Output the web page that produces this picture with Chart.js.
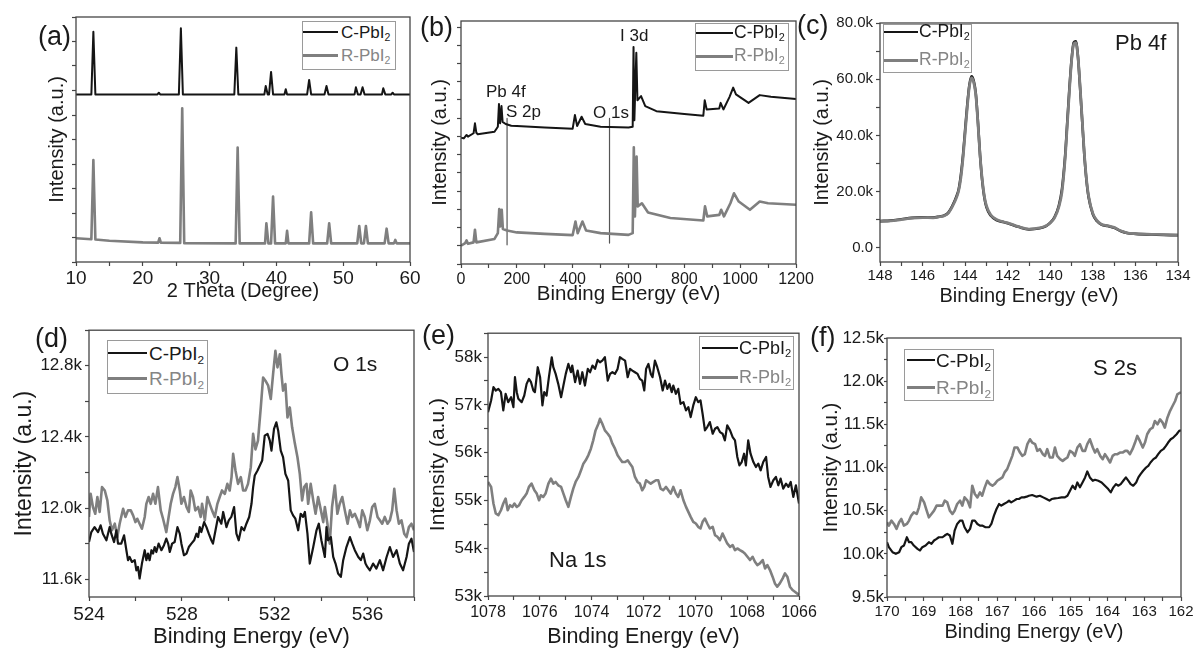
<!DOCTYPE html>
<html>
<head>
<meta charset="utf-8">
<script src="https://cdn.jsdelivr.net/npm/chart.js@4.4.1/dist/chart.umd.min.js"></script>
<style>
  body { margin: 0; width: 1195px; height: 648px; overflow: hidden; background: #fff; position: relative;
         font-family: 'Liberation Sans', Arial, Helvetica, sans-serif; }
  canvas { position: absolute; }
  .txt { position: absolute; white-space: nowrap; line-height: 1; color: #1a1a1a; }
  .leg { position: absolute; border: 1px solid #9a9a9a; background: #fff; box-sizing: border-box; }
  .smp { position: absolute; }
  sub { font-size: 0.62em; vertical-align: -0.3em; line-height: 0; }
</style>
</head>
<body>
<script>
// (a) XRD, 2 Theta vs intensity (a.u., 0-100)
const xrdC = [[10,68.4],[12.3,68.4],[12.6,94.0],[12.9,68.4],[22.2,68.4],[22.4,69.1],[22.6,68.4],[25.4,68.4],[25.7,95.4],[26.0,68.4],
  [33.7,68.4],[34.0,87.5],[34.3,68.4],[38.2,68.4],[38.4,71.8],[38.7,68.4],[38.9,68.4],[39.2,77.6],[39.5,68.4],[41.2,68.4],[41.4,70.5],
  [41.6,68.4],[44.6,68.4],[44.9,74.3],[45.2,68.4],[47.2,68.4],[47.5,71.8],[47.8,68.4],[51.7,68.4],[51.9,71.3],[52.2,68.4],[52.6,68.4],
  [52.9,71.3],[53.2,68.4],[55.8,68.4],[56.0,70.9],[56.3,68.4],[57.2,68.4],[57.4,69.1],[57.6,68.4],[60,68.4]];
const xrdR = [[10,9.7],[12.3,9.3],[12.6,41.6],[12.9,9.2],[15,8.7],[20,8.0],[22.3,7.9],[22.5,9.7],[22.7,7.9],[25.6,7.8],[25.9,62.7],
  [26.2,7.7],[33.9,7.6],[34.2,46.7],[34.5,7.6],[38.3,7.6],[38.5,15.8],[38.8,7.6],[39.2,7.6],[39.5,26.7],[39.8,7.6],[41.4,7.6],[41.6,12.7],
  [41.8,7.6],[44.9,7.6],[45.2,20.3],[45.5,7.6],[47.6,7.6],[47.9,15.8],[48.2,7.6],[52.1,7.6],[52.4,14.7],[52.7,7.6],[53.1,7.6],[53.4,14.7],
  [53.7,7.6],[56.2,7.6],[56.5,13.6],[56.8,7.6],[57.6,7.6],[57.8,9.0],[58.0,7.6],[60,7.6]];

// (b) XPS survey (a.u., 0-100)
const surveyC = [[0,52.0],[10,51.7],[20,53.1],[25,52.4],[45,53.8],[50,57.9],[55,54.0],[60,53.4],[120,54.4],[132,56.5],[136,65.8],[140,57.9],
  [145,65.0],[149,58.5],[160,57.6],[180,56.9],[200,56.8],[300,56.2],[400,55.7],[408,61.3],[416,56.8],[432,60.6],[445,57.6],[500,56.5],
  [600,56.2],[615,56.5],[618,89.3],[621,59.2],[628,86.9],[632,67.4],[645,69.1],[660,65.0],[700,62.9],[800,61.7],[868,61.0],[873,67.4],
  [880,63.6],[925,64.0],[930,66.3],[940,63.6],[962,68.8],[975,72.6],[985,69.8],[1030,66.3],[1070,69.5],[1110,68.8],[1200,67.9]];
const surveyR = [[0,7.5],[15,8.6],[20,9.7],[25,8.3],[45,8.9],[50,14.1],[55,8.9],[120,10.3],[132,12.7],[137,22.6],[141,15.5],[146,22.3],
  [150,14.4],[165,13.8],[200,13.0],[300,12.4],[400,11.9],[410,17.5],[418,12.7],[435,17.5],[448,13.8],[500,12.7],[600,12.0],[615,12.7],
  [619,48.0],[623,19.6],[629,44.2],[633,23.7],[648,25.0],[670,21.2],[750,18.9],[868,17.9],[874,23.7],[882,19.6],[925,20.2],[932,22.3],
  [942,19.6],[965,25.0],[978,29.1],[995,25.7],[1035,22.3],[1070,25.7],[1100,25.0],[1200,24.4]];
const markS2p = [[165,59.9],[165,7.9]];
const markO1s = [[532,59.9],[532,8.6]];

// (c) Pb 4f
const pbC = [[148,9600],[147.5,9700],[147,10200],[146.5,10700],[146,10900],[145.5,10800],[145.2,11200],[145,11500],[144.8,12500],
  [144.6,15000],[144.4,18500],[144.3,21000],[144.2,26000],[144.1,33000],[144.0,42000],[143.9,51000],[143.8,58000],[143.7,61000],
  [143.6,59500],[143.5,55000],[143.4,45000],[143.3,33000],[143.2,24000],[143.1,18000],[143.0,14500],[142.8,11500],[142.5,9800],
  [142.2,9200],[142,8800],[141.5,7500],[141,6600],[140.5,7000],[140.2,7800],[140.0,9000],[139.8,11000],[139.6,15000],[139.45,21000],
  [139.3,33000],[139.2,45000],[139.1,57000],[139.0,67000],[138.9,73000],[138.8,73500],[138.7,68000],[138.6,57000],[138.5,45000],
  [138.4,33000],[138.3,24000],[138.2,18000],[138.0,12000],[137.8,9500],[137.6,8300],[137.3,7800],[137.0,7200],[136.7,6000],
  [136.4,5300],[136,5000],[135,4700],[134,4500]];
const pbR = [[148,9400],[147.5,9600],[147,10100],[146.5,10600],[146,10800],[145.5,10700],[145.2,11100],[145,11400],[144.8,12300],
  [144.6,14700],[144.4,18000],[144.3,20500],[144.2,25000],[144.1,32000],[144.0,41000],[143.9,50000],[143.8,57500],[143.7,60500],
  [143.6,59000],[143.5,54500],[143.4,44500],[143.3,33000],[143.2,24500],[143.1,18500],[143.0,15000],[142.8,11800],[142.5,10000],
  [142.2,9300],[142,8900],[141.5,7600],[141,6700],[140.5,7100],[140.2,7900],[140.0,8900],[139.8,10700],[139.6,14500],[139.45,20000],
  [139.3,32000],[139.2,44000],[139.1,56000],[139.0,66500],[138.9,72500],[138.8,73000],[138.7,68000],[138.6,57500],[138.5,45500],
  [138.4,33500],[138.3,24500],[138.2,18500],[138.0,12300],[137.8,9700],[137.6,8400],[137.3,7900],[137.0,7300],[136.7,6100],
  [136.4,5400],[136,5100],[135,4800],[134,4600]];

// (d) O 1s
const oC = [[524.0,11809],[524.10,11865],[524.24,11893],[524.39,11865],[524.50,11903],[524.60,11856],[524.75,11819],[524.89,11893],
  [524.96,11856],[525.08,11809],[525.18,11875],[525.25,11800],[525.39,11800],[525.51,11847],[525.61,11763],[525.68,11707],[525.75,11725],
  [525.85,11697],[525.97,11707],[526.04,11650],[526.11,11669],[526.18,11604],[526.28,11688],[526.40,11763],[526.47,11707],[526.54,11744],
  [526.61,11707],[526.69,11763],[526.76,11744],[526.83,11781],[526.90,11753],[527.00,11800],[527.12,11763],[527.23,11791],[527.33,11828],
  [527.41,11800],[527.48,11753],[527.58,11800],[527.69,11809],[527.81,11893],[527.91,11856],[527.98,11800],[528.09,11735],[528.20,11744],
  [528.30,11781],[528.41,11800],[528.53,11819],[528.63,11856],[528.70,11837],[528.77,11893],[528.84,11865],[528.96,11921],[529.06,11893],
  [529.16,11856],[529.27,11819],[529.34,11800],[529.45,11875],[529.56,11950],[529.70,11912],[529.78,11978],[529.92,11893],[530.02,11931],
  [530.13,11950],[530.25,12006],[530.35,11856],[530.45,11819],[530.57,11893],[530.68,11875],[530.78,11912],[530.90,11950],[531.00,12024],
  [531.07,12118],[531.14,12183],[531.26,12211],[531.36,12239],[531.46,12267],[531.57,12407],[531.69,12417],[531.79,12379],[531.86,12323],
  [531.97,12445],[532.07,12482],[532.15,12435],[532.26,12323],[532.36,12286],[532.46,12192],[532.58,12155],[532.69,11987],[532.79,11959],
  [532.89,11940],[533.01,11875],[533.12,11968],[533.22,11950],[533.30,11978],[533.41,11856],[533.51,11688],[533.66,11781],[533.80,11875],
  [533.90,11912],[534.01,11819],[534.16,11725],[534.23,11893],[534.30,11819],[534.42,11837],[534.52,11725],[534.62,11688],[534.73,11632],
  [534.85,11613],[534.95,11707],[535.09,11781],[535.24,11837],[535.34,11800],[535.45,11763],[535.60,11725],[535.71,11707],[535.81,11744],
  [535.91,11688],[535.99,11669],[536.10,11650],[536.24,11688],[536.38,11660],[536.53,11707],[536.67,11650],[536.82,11725],[536.96,11781],
  [537.10,11725],[537.25,11763],[537.39,11688],[537.53,11650],[537.68,11725],[537.78,11800],[537.89,11828],[538.0,11753]];
const oR = [[524.0,11950],[524.07,12080],[524.17,12006],[524.27,11968],[524.36,12062],[524.46,11978],[524.56,12118],[524.68,12099],
  [524.79,12043],[524.89,11931],[524.99,11875],[525.11,11912],[525.22,11837],[525.32,11912],[525.47,11996],[525.57,11950],[525.68,11987],
  [525.80,11987],[525.90,11959],[526.00,11921],[526.08,11940],[526.18,11912],[526.28,11884],[526.40,11950],[526.47,12024],[526.57,12062],
  [526.66,12024],[526.76,12080],[526.86,12024],[526.97,12118],[527.09,11987],[527.19,11940],[527.33,11865],[527.43,11950],[527.52,12024],
  [527.62,12080],[527.72,12118],[527.81,12174],[527.91,12099],[527.98,12024],[528.09,12062],[528.20,12006],[528.30,11978],[528.38,12099],
  [528.48,12062],[528.58,11987],[528.70,12006],[528.81,11950],[528.87,12024],[528.99,11931],[529.10,12062],[529.20,12024],[529.30,11987],
  [529.42,11950],[529.53,12024],[529.63,12062],[529.73,12099],[529.85,12080],[529.96,12136],[530.06,12099],[530.14,12174],[530.21,12305],
  [530.31,12211],[530.42,12136],[530.54,12174],[530.64,12099],[530.74,12099],[530.85,12136],[530.97,12230],[531.07,12417],[531.17,12330],
  [531.28,12379],[531.40,12566],[531.50,12734],[531.60,12716],[531.72,12688],[531.83,12613],[531.93,12753],[532.03,12884],[532.12,12791],
  [532.22,12865],[532.29,12753],[532.36,12660],[532.46,12697],[532.55,12510],[532.65,12566],[532.75,12454],[532.87,12361],[532.98,12286],
  [533.08,12192],[533.18,12043],[533.27,12118],[533.37,12136],[533.44,12024],[533.55,12136],[533.66,12043],[533.76,11968],[533.87,12062],
  [533.99,11987],[534.09,11921],[534.16,12006],[534.27,11912],[534.37,11800],[534.47,12006],[534.59,12127],[534.70,11968],[534.80,12024],
  [534.91,12062],[535.02,11987],[535.14,11912],[535.24,11987],[535.34,11950],[535.45,11968],[535.57,11931],[535.67,11893],[535.77,11987],
  [535.88,11950],[535.99,11875],[536.10,11931],[536.20,12006],[536.31,12024],[536.43,11950],[536.53,11931],[536.63,11912],[536.74,11950],
  [536.86,11912],[536.96,11931],[537.06,11987],[537.15,12108],[537.25,11987],[537.35,11912],[537.46,11931],[537.58,11856],[537.68,11837],
  [537.78,11893],[537.89,11912],[538.0,11875]];

// (e) Na 1s
const naC = [[1078,56848],[1077.88,57092],[1077.79,57370],[1077.70,57301],[1077.60,57335],[1077.50,57266],[1077.41,56883],[1077.32,57231],
  [1077.22,57057],[1077.11,57161],[1077.02,56953],[1076.96,57579],[1076.89,57266],[1076.83,57127],[1076.70,57057],[1076.60,57196],
  [1076.51,57440],[1076.42,57544],[1076.34,57475],[1076.25,57301],[1076.19,57266],[1076.08,57788],[1075.99,57579],[1075.90,56988],
  [1075.83,57266],[1075.74,57196],[1075.65,57579],[1075.54,57997],[1075.48,57788],[1075.39,57649],[1075.29,57440],[1075.18,57161],
  [1075.09,57405],[1075.00,57649],[1074.90,57857],[1074.80,57683],[1074.75,57823],[1074.64,57475],[1074.54,57718],[1074.45,57440],
  [1074.36,57683],[1074.26,57405],[1074.15,57753],[1074.06,57683],[1073.97,57823],[1073.87,57753],[1073.77,57941],[1073.68,57892],
  [1073.59,57927],[1073.49,57997],[1073.38,57509],[1073.29,57649],[1073.20,57683],[1073.10,57649],[1073.00,57753],[1072.91,57997],
  [1072.82,57962],[1072.71,57927],[1072.61,57579],[1072.52,57753],[1072.43,57718],[1072.33,57683],[1072.23,57649],[1072.14,57544],
  [1072.05,57509],[1071.97,57301],[1071.90,57753],[1071.81,57857],[1071.72,57649],[1071.65,57579],[1071.56,57927],[1071.47,57788],
  [1071.36,57579],[1071.26,57301],[1071.17,57509],[1071.08,57335],[1071.00,57440],[1070.91,57266],[1070.85,57405],[1070.75,57231],
  [1070.66,57335],[1070.57,57022],[1070.46,57057],[1070.36,56883],[1070.27,56953],[1070.18,56744],[1070.08,56988],[1069.98,57161],
  [1069.89,57057],[1069.80,57092],[1069.72,56814],[1069.63,56466],[1069.54,56535],[1069.44,56640],[1069.33,56396],[1069.24,56500],
  [1069.15,56535],[1069.05,56431],[1068.95,56396],[1068.86,56257],[1068.77,56570],[1068.66,56466],[1068.56,56326],[1068.47,56257],
  [1068.38,55909],[1068.30,55735],[1068.21,55804],[1068.12,55978],[1068.05,55735],[1067.96,56257],[1067.87,55978],[1067.76,55804],
  [1067.66,55700],[1067.57,55770],[1067.48,55630],[1067.38,55804],[1067.27,55909],[1067.19,55491],[1067.10,55283],[1066.99,55422],
  [1066.89,55491],[1066.80,55317],[1066.71,55457],[1066.61,55248],[1066.50,55352],[1066.41,55283],[1066.32,55387],[1066.22,55074],
  [1066.12,55317],[1066.0,54935]];
const naR = [[1078,55387],[1077.88,55283],[1077.79,54935],[1077.70,54726],[1077.60,54691],[1077.50,54795],[1077.41,54935],[1077.32,55039],
  [1077.24,54795],[1077.15,54900],[1077.06,54865],[1076.98,54935],[1076.89,54865],[1076.80,54900],[1076.70,55004],[1076.60,55074],
  [1076.51,55143],[1076.42,55283],[1076.32,55352],[1076.21,55213],[1076.12,55143],[1076.03,55004],[1075.96,55109],[1075.87,55074],
  [1075.78,55143],[1075.67,55352],[1075.57,55457],[1075.48,55352],[1075.39,55387],[1075.29,55317],[1075.18,55283],[1075.09,55143],
  [1075.00,55004],[1074.90,54865],[1074.80,55074],[1074.71,55248],[1074.62,55387],[1074.51,55491],[1074.41,55630],[1074.32,55770],
  [1074.23,55839],[1074.13,55944],[1074.03,56083],[1073.94,56257],[1073.85,56466],[1073.74,56605],[1073.68,56709],[1073.59,56605],
  [1073.49,56466],[1073.38,56396],[1073.29,56326],[1073.20,56187],[1073.10,56083],[1073.00,55944],[1072.91,55874],[1072.82,55804],
  [1072.71,55804],[1072.61,55839],[1072.52,55770],[1072.43,55700],[1072.33,55491],[1072.23,55387],[1072.14,55352],[1072.05,55213],
  [1071.97,55283],[1071.90,55422],[1071.81,55387],[1071.72,55352],[1071.62,55387],[1071.52,55422],[1071.43,55422],[1071.34,55248],
  [1071.24,55213],[1071.13,55283],[1071.04,55213],[1070.95,55143],[1070.85,55283],[1070.75,55143],[1070.66,55074],[1070.57,55213],
  [1070.46,55004],[1070.36,54865],[1070.27,54761],[1070.18,54656],[1070.08,54552],[1069.98,54517],[1069.89,54447],[1069.80,54413],
  [1069.72,54552],[1069.63,54621],[1069.54,54517],[1069.44,54413],[1069.33,54447],[1069.24,54273],[1069.15,54239],[1069.05,54169],
  [1068.95,54308],[1068.86,54204],[1068.77,54100],[1068.66,54030],[1068.56,54065],[1068.47,53960],[1068.38,53995],[1068.28,53960],
  [1068.17,53926],[1068.09,53891],[1067.99,53821],[1067.89,53752],[1067.79,53821],[1067.70,53717],[1067.61,53647],[1067.51,53682],
  [1067.40,53752],[1067.31,53578],[1067.22,53647],[1067.12,53543],[1067.02,53404],[1066.93,53264],[1066.84,53195],[1066.74,53264],
  [1066.63,53369],[1066.54,53473],[1066.45,53404],[1066.35,53195],[1066.25,53125],[1066.16,53090],[1066.0,53021]];

// (f) S 2s
const sC = [[170.0,10135],[169.95,10077],[169.85,10019],[169.76,10000],[169.67,10019],[169.61,10077],[169.54,10096],[169.46,10192],
  [169.40,10135],[169.34,10135],[169.27,10096],[169.17,10058],[169.10,10039],[169.04,10077],[168.95,10096],[168.86,10135],[168.79,10116],
  [168.72,10154],[168.65,10173],[168.59,10192],[168.49,10192],[168.43,10212],[168.36,10231],[168.29,10212],[168.22,10116],[168.16,10269],
  [168.09,10346],[168.01,10385],[167.95,10385],[167.89,10308],[167.81,10250],[167.74,10289],[167.68,10385],[167.61,10385],[167.54,10346],
  [167.47,10327],[167.41,10327],[167.32,10308],[167.22,10308],[167.16,10346],[167.09,10443],[167.02,10519],[166.95,10577],[166.89,10558],
  [166.82,10577],[166.74,10596],[166.68,10616],[166.62,10596],[166.54,10616],[166.47,10635],[166.41,10635],[166.34,10654],[166.27,10654],
  [166.20,10662],[166.14,10673],[166.05,10681],[165.93,10662],[165.84,10673],[165.75,10654],[165.66,10635],[165.58,10616],[165.52,10635],
  [165.43,10643],[165.34,10647],[165.25,10654],[165.16,10654],[165.09,10673],[165.02,10731],[164.95,10789],[164.88,10750],[164.82,10827],
  [164.75,10770],[164.68,10827],[164.61,10885],[164.55,10954],[164.48,10885],[164.40,10846],[164.34,10858],[164.25,10846],[164.16,10827],
  [164.07,10789],[163.98,10750],[163.91,10712],[163.84,10770],[163.77,10808],[163.71,10789],[163.64,10808],[163.57,10846],[163.50,10885],
  [163.43,10846],[163.37,10808],[163.30,10789],[163.22,10827],[163.16,10885],[163.10,10923],[163.03,10962],[162.95,11000],[162.89,11020],
  [162.83,11058],[162.75,11097],[162.68,11116],[162.62,11154],[162.55,11193],[162.48,11212],[162.41,11250],[162.35,11289],[162.28,11327],
  [162.21,11347],[162.12,11385],[162.05,11424],[162.0,11430]];
const sR = [[170.0,10366],[169.95,10327],[169.88,10385],[169.81,10346],[169.74,10289],[169.67,10366],[169.61,10404],[169.54,10327],
  [169.46,10346],[169.40,10385],[169.34,10443],[169.27,10481],[169.19,10462],[169.13,10539],[169.07,10654],[168.99,10596],[168.92,10500],
  [168.86,10423],[168.79,10462],[168.72,10500],[168.65,10558],[168.59,10558],[168.49,10558],[168.43,10616],[168.36,10596],[168.29,10500],
  [168.22,10462],[168.16,10500],[168.09,10577],[168.01,10616],[167.95,10558],[167.89,10654],[167.81,10616],[167.74,10539],[167.68,10789],
  [167.61,10693],[167.54,10654],[167.47,10712],[167.41,10673],[167.34,10770],[167.27,10846],[167.20,10808],[167.13,10789],[167.07,10808],
  [167.00,10846],[166.93,10866],[166.86,10885],[166.80,10943],[166.73,10981],[166.66,11058],[166.59,11135],[166.53,11231],[166.45,11231],
  [166.38,11173],[166.32,11135],[166.25,11154],[166.18,11270],[166.11,11327],[166.05,11289],[165.97,11270],[165.91,11193],[165.84,11212],
  [165.76,11154],[165.70,11135],[165.64,11212],[165.57,11116],[165.49,11116],[165.43,11231],[165.37,11135],[165.29,11097],[165.22,11077],
  [165.16,11097],[165.09,11116],[165.02,11193],[164.95,11173],[164.89,11135],[164.82,11231],[164.75,11270],[164.68,11193],[164.61,11193],
  [164.55,11270],[164.48,11327],[164.40,11231],[164.34,11173],[164.28,11212],[164.20,11135],[164.13,11097],[164.07,11154],[164.01,11116],
  [163.93,11058],[163.86,11135],[163.80,11154],[163.73,11154],[163.66,11173],[163.59,11173],[163.52,11193],[163.46,11193],[163.39,11154],
  [163.32,11212],[163.25,11289],[163.19,11366],[163.12,11308],[163.04,11231],[162.98,11289],[162.92,11385],[162.84,11443],[162.77,11462],
  [162.71,11539],[162.64,11500],[162.57,11558],[162.50,11520],[162.44,11462],[162.37,11577],[162.30,11654],[162.23,11712],[162.16,11770],
  [162.10,11847],[162.03,11866],[162.0,11870]];

const BLACK = '#151515';
const GREY = '#7f7f7f';
const AXIS = '#454545';
const TEXT = '#1a1a1a';

Chart.defaults.font.family = "'Liberation Sans', Arial, Helvetica, sans-serif";
Chart.defaults.color = TEXT;
Chart.defaults.animation = false;

// рамка вокруг области графика
const framePlugin = {
  id: 'frame',
  afterDatasetsDraw(chart) {
    const { ctx, chartArea: a } = chart;
    ctx.save();
    ctx.strokeStyle = AXIS;
    ctx.lineWidth = 1.3;
    ctx.strokeRect(a.left, a.top, a.right - a.left, a.bottom - a.top);
    ctx.restore();
  }
};

const kFmt1 = v => (v === 0 ? '0.0' : (v / 1000).toFixed(1) + 'k');
const kFmt0 = v => (v / 1000).toFixed(0) + 'k';
const plain = v => String(v);
const none = () => '';

function line(data, color, width, extra) {
  return Object.assign({
    data: data, borderColor: color, borderWidth: width, pointRadius: 0,
    fill: false, tension: 0, borderJoinStyle: 'round'
  }, extra || {});
}

function makePanel(p) {
  const padT = 12;
  const left = p.L - p.Wy, top = p.T - padT;
  const w = p.R + p.padR - left, h = p.B + p.Hx - top;
  const cv = document.createElement('canvas');
  cv.width = w; cv.height = h;
  cv.style.left = left + 'px';
  cv.style.top = top + 'px';
  cv.style.width = w + 'px';
  cv.style.height = h + 'px';
  document.body.appendChild(cv);

  const axis = (o, isX) => ({
    type: 'linear',
    position: isX ? 'bottom' : 'left',
    min: o.min, max: o.max, reverse: !!o.reverse,
    afterFit: s => { if (isX) s.height = p.Hx; else s.width = p.Wy; },
    // засечки — от первого кратного шагу значения
    afterBuildTicks: s => {
      const out = [];
      const first = Math.ceil(o.min / o.step - 1e-9) * o.step;
      for (let v = first; v <= o.max + 1e-9; v += o.step) out.push({ value: +v.toFixed(6) });
      s.ticks = out;
    },
    border: { display: false },
    grid: { drawOnChartArea: false, drawTicks: true, tickLength: o.tl, color: AXIS, tickColor: AXIS, tickWidth: 1.2 },
    ticks: {
      stepSize: o.step, autoSkip: false, maxRotation: 0, minRotation: 0, padding: o.pad,
      font: { size: o.size }, color: TEXT,
      callback: v => {
        const q = v / o.every;
        return Math.abs(q - Math.round(q)) < 1e-6 ? o.fmt(v) : '';
      }
    },
    title: { display: true, text: o.title, font: { size: o.tsize }, padding: 0, color: TEXT }
  });

  new Chart(cv, {
    type: 'line',
    data: { datasets: p.sets },
    options: {
      responsive: false,
      animation: false,
      layout: { padding: { top: padT, right: p.padR, left: 0, bottom: 0 } },
      scales: { x: axis(p.x, true), y: axis(p.y, false) },
      plugins: { legend: { display: false }, tooltip: { enabled: false } }
    },
    plugins: [framePlugin]
  });
}

// (a)
makePanel({
  L: 76, T: 17, R: 410, B: 262, Wy: 31, Hx: 41, padR: 25,
  x: { min: 10, max: 60, step: 5, every: 10, fmt: plain, size: 19, tl: 4, pad: 1, title: '2 Theta (Degree)', tsize: 20 },
  y: { min: 0, max: 100, step: 10, every: 1, fmt: none, size: 12, tl: 4, pad: 2, title: 'Intensity (a.u.)', tsize: 20 },
  sets: [line(xrdC, BLACK, 2), line(xrdR, GREY, 2.6)]
});

// (b)
makePanel({
  L: 461, T: 21, R: 796, B: 264, Wy: 33, Hx: 43, padR: 25,
  x: { min: 0, max: 1200, step: 100, every: 200, fmt: plain, size: 16, tl: 4, pad: 2, title: 'Binding Energy (eV)', tsize: 20.5 },
  y: { min: 0, max: 100, step: 7.5, every: 1, fmt: none, size: 12, tl: 4, pad: 2, title: 'Intensity (a.u.)', tsize: 20 },
  sets: [line(surveyC, BLACK, 2), line(surveyR, GREY, 2.6),
         line(markS2p, '#555', 1.2), line(markO1s, '#555', 1.2)]
});

// (c)
makePanel({
  L: 880, T: 23, R: 1178, B: 262, Wy: 70, Hx: 46, padR: 17,
  x: { min: 134, max: 148, reverse: true, step: 1, every: 2, fmt: plain, size: 15, tl: 4, pad: 1, title: 'Binding Energy (eV)', tsize: 20 },
  y: { min: -5000, max: 80000, step: 10000, every: 20000, fmt: kFmt1, size: 15, tl: 4, pad: 3, title: 'Intensity (a.u.)', tsize: 20 },
  sets: [line(pbC, BLACK, 2.6, { order: 1, cubicInterpolationMode: 'monotone' }),
         line(pbR, GREY, 2.8, { order: 0, cubicInterpolationMode: 'monotone' })]
});

// (d)
makePanel({
  L: 89, T: 329, R: 414, B: 597, Wy: 78, Hx: 53, padR: 25,
  x: { min: 524, max: 538, step: 2, every: 4, fmt: plain, size: 19, tl: 4, pad: 2, title: 'Binding Energy (eV)', tsize: 22 },
  y: { min: 11500, max: 13000, step: 200, every: 400, fmt: kFmt1, size: 17, tl: 4, pad: 3, title: 'Intensity (a.u.)', tsize: 23 },
  sets: [line(oC, BLACK, 2.2), line(oR, GREY, 2.6)]
});

// (e)
makePanel({
  L: 488, T: 333, R: 799, B: 596, Wy: 62, Hx: 54, padR: 25,
  x: { min: 1066, max: 1078, reverse: true, step: 1, every: 2, fmt: plain, size: 16, tl: 4, pad: 3, title: 'Binding Energy (eV)', tsize: 21.5 },
  y: { min: 53000, max: 58500, step: 500, every: 1000, fmt: kFmt0, size: 17, tl: 4, pad: 2, title: 'Intensity (a.u.)', tsize: 21 },
  sets: [line(naC, BLACK, 2.2), line(naR, GREY, 2.6)]
});

// (f)
makePanel({
  L: 887, T: 338, R: 1181, B: 597, Wy: 68, Hx: 47, padR: 14,
  x: { min: 162, max: 170, reverse: true, step: 0.5, every: 1, fmt: plain, size: 15, tl: 4, pad: 2, title: 'Binding Energy (eV)', tsize: 20 },
  y: { min: 9500, max: 12500, step: 250, every: 500, fmt: kFmt1, size: 17, tl: 3, pad: 0, title: 'Intensity (a.u.)', tsize: 20.5 },
  sets: [line(sC, BLACK, 2.2), line(sR, GREY, 2.6)]
});

// надписи поверх графиков
function text(html, x, cy, size, color) {
  const d = document.createElement('div');
  d.className = 'txt';
  d.innerHTML = html;
  d.style.left = x + 'px';
  d.style.top = (cy - size / 2) + 'px';
  d.style.fontSize = size + 'px';
  if (color) d.style.color = color;
  document.body.appendChild(d);
}

function legend(box, sx1, sx2, tx, rows, size) {
  const b = document.createElement('div');
  b.className = 'leg';
  b.style.left = box[0] + 'px';
  b.style.top = box[1] + 'px';
  b.style.width = box[2] + 'px';
  b.style.height = box[3] + 'px';
  document.body.appendChild(b);
  const items = [['C-PbI<sub>2</sub>', BLACK, 2, TEXT], ['R-PbI<sub>2</sub>', GREY, 3, '#858585']];
  items.forEach((it, i) => {
    const s = document.createElement('div');
    s.className = 'smp';
    s.style.left = sx1 + 'px';
    s.style.width = (sx2 - sx1) + 'px';
    s.style.top = (rows[i] - it[2] / 2) + 'px';
    s.style.height = it[2] + 'px';
    s.style.background = it[1];
    document.body.appendChild(s);
    text(it[0], tx, rows[i], size, it[3]);
  });
}

legend([302, 21, 94, 49], 303, 338, 341, [32, 55], 17);
legend([695, 23, 94, 48], 696, 733, 734, [33, 56], 17.5);
legend([883, 24, 89, 49], 884, 918, 919, [32, 60], 17.5);
legend([107, 340, 101, 54], 108, 147, 149, [353, 378], 19);
legend([699, 336, 95, 54], 702, 738, 739, [348, 377], 18);
legend([904, 349, 90, 52], 907, 935, 936, [360, 387], 19);

text('(a)', 38, 36, 27);
text('(b)', 420, 27, 27);
text('(c)', 797, 25, 27);
text('(d)', 35, 338, 27);
text('(e)', 422, 335, 27);
text('(f)', 810, 337, 27);

text('I 3d', 620, 35, 17);
text('Pb 4f', 486, 91, 17);
text('S 2p', 506, 111, 17);
text('O 1s', 593, 112, 17);
text('Pb 4f', 1115, 43, 22);
text('O 1s', 333, 363, 21);
text('Na 1s', 549, 560, 22);
text('S 2s', 1093, 368, 22);
</script>
</body>
</html>
